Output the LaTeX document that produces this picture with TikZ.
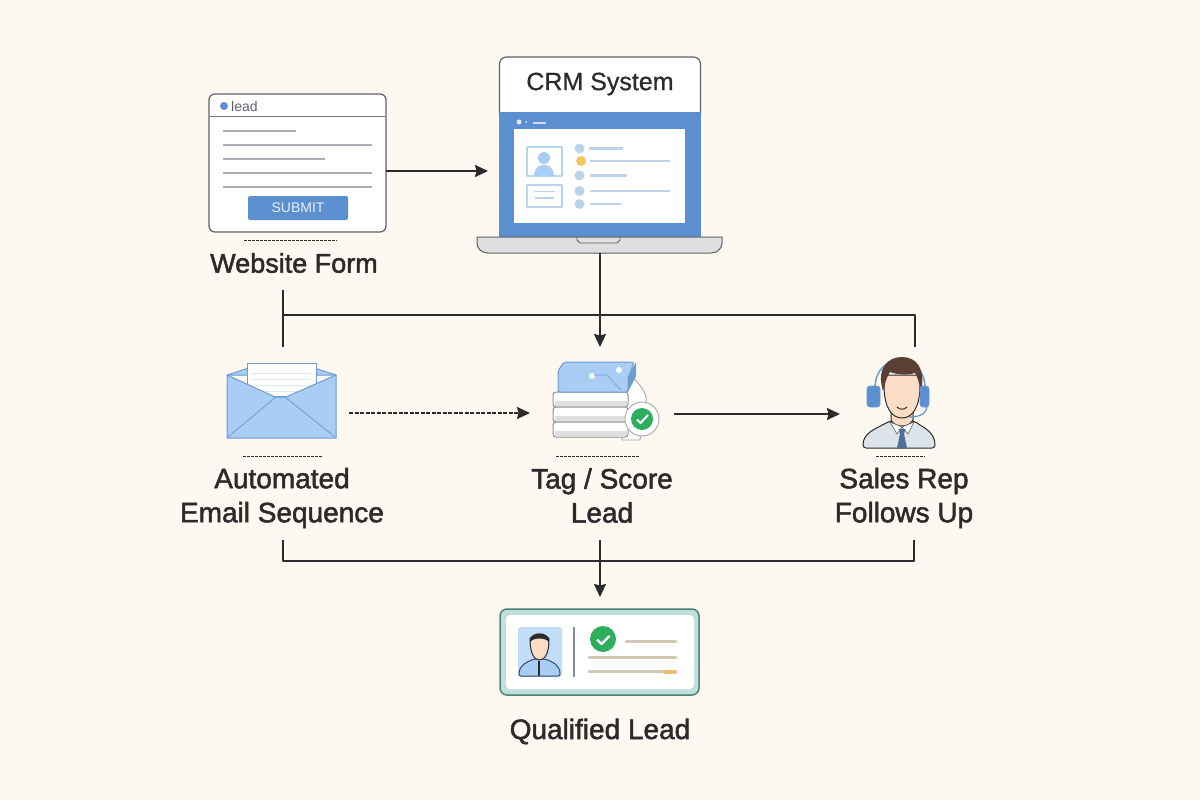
\documentclass[tikz,border=0pt]{standalone}
\usepackage{fontspec}
\setmainfont{Liberation Sans}
\newfontfamily\capfont[FakeBold=1.8]{Liberation Sans}
\newfontfamily\titlefont[FakeBold=0.6]{Liberation Sans}
\usetikzlibrary{arrows.meta,positioning,calc}
\definecolor{paper}{HTML}{FDF8F0}
\definecolor{ink}{HTML}{2B2B2B}
\definecolor{frameline}{HTML}{5E6268}
\definecolor{rule}{HTML}{A9AFB8}
\definecolor{crmblue}{HTML}{5B8FD0}
\definecolor{pale}{HTML}{BCD3EC}
\definecolor{sky}{HTML}{A9CDF5}
\definecolor{skyline}{HTML}{6E9BD0}
\definecolor{okgreen}{HTML}{2EAE5C}
\definecolor{tan}{HTML}{D2C8B5}
\definecolor{skin}{HTML}{FBDCC4}
\definecolor{hair}{HTML}{5A4034}
\definecolor{shirt}{HTML}{DCE3EA}
\definecolor{tie}{HTML}{4E7096}
\definecolor{cardline}{HTML}{4D7F78}
\definecolor{cardfill}{HTML}{BFE0D9}
\definecolor{amber}{HTML}{F2C661}
\definecolor{sandbar}{HTML}{E9BE73}

\begin{document}
\begin{tikzpicture}[x=1pt,y=-1pt,>={Stealth[length=13pt,width=12pt,inset=1.5pt]},line join=round,
                    flow/.style={draw=ink,line width=1.7pt},
                    tick/.style={draw=ink,line width=.9pt,dash pattern=on 3pt off 1pt},
                    caption/.style={font=\capfont\fontsize{28}{34}\selectfont,text=ink,align=center,inner sep=0pt},
                    box/.style={inner sep=0pt,outer sep=0pt,line width=1.2pt},
                    icon/.style={inner sep=0pt,outer sep=0pt,minimum width=#1},
                    rowline/.style={draw=rule,line width=2.4pt},
                    paleline/.style={draw=pale,line width=2.2pt}]
  \useasboundingbox[fill=paper] (0,0) rectangle (1200,800);

  % form
  \node[box,draw=frameline,fill=white,rounded corners=6pt,minimum width=177pt,minimum height=138pt]
       (form) at (297.5,163) {};
  \draw[draw=rule!70!black,line width=1pt] (form.west |- 0,116) -- (form.east |- 0,116);
  \fill[crmblue] (224,106) circle (4pt);
  \node[inner sep=0pt,anchor=west,text=frameline,font=\fontsize{14}{16}\selectfont] (formtitle) at (231,106) {lead};
  \draw[rowline] (223,131) -- (296,131);
  \draw[rowline] (223,145) -- (372,145);
  \draw[rowline] (223,159) -- (325,159);
  \draw[rowline] (223,173) -- (372,173);
  \draw[rowline] (223,187) -- (372,187);
  \node[fill=crmblue,rounded corners=2pt,minimum width=100pt,minimum height=24pt,inner sep=0pt,
        text=white!85!crmblue,font=\fontsize{14}{16}\selectfont] (submit) at (298,208) {SUBMIT};
  \draw[tick] (244,240) -- (337,240);
  \node[caption,font=\capfont\fontsize{27}{34}\selectfont] (formcap) at (294,263) {Website Form};

  % crm
  \node[box,draw=frameline,fill=white,minimum width=201pt,minimum height=64pt,rounded corners=7pt] (crmtop) at (600,89) {};
  \node[inner sep=0pt,text=ink,font=\titlefont\fontsize{25}{30}\selectfont] (crmtitle) at (600,84) {CRM System};
  \node[box,fill=crmblue,minimum width=202pt,minimum height=125pt] (crm) at (600,174.5) {};
  \node[fill=white,inner sep=0pt,minimum width=171pt,minimum height=94pt] (crmscreen) at (599.5,176) {};
  \filldraw[draw=frameline,fill=gray!25,line width=1pt] (477,237) -- (722,237) -- (722,243)
     .. controls (722,249) and (717,253) .. (711,253) -- (488,253)
     .. controls (482,253) and (477,249) .. (477,243) -- cycle;
  \coordinate (crmbase) at (600,253);
  \draw[draw=frameline,line width=.8pt] (577,237) -- (577,240) -- (580,243) -- (617,243) -- (620,240) -- (620,237);
  \fill[white!80!crmblue] (519,122) circle (2.5pt) (526,122) circle (1pt);
  \draw[white!70!crmblue,line width=2pt] (533,122.5) -- (546,122.5);
  \draw[pale,line width=1.2pt] (527,147) rectangle (562,176);
  \fill[sky] (544,158) circle (6pt);
  \fill[sky] (534,176) .. controls (535,167) and (539,165) .. (544,165) .. controls (549,165) and (553,167) .. (554,176) -- cycle;
  \draw[pale,line width=1.2pt] (527,185) rectangle (562,207);
  \draw[pale,line width=1pt] (534,191.5) -- (555,191.5);
  \draw[pale,line width=2pt] (535,198) -- (554,198);
  \foreach \yy/\xa/\xb in {148.5/589/623,175.5/590/627,191/590/670,204/590/621}
    {\fill[pale] (579.5,\yy) circle (5pt);
     \draw[paleline] (\xa,\yy) -- (\xb,\yy);}
  \fill[amber] (581,161) circle (5pt);
  \draw[paleline] (590,161) -- (670,161);

  % email
  \node[icon=109pt,minimum height=75pt] (email) at (281.5,400.5) {};
  \filldraw[fill=sky,draw=skyline,line width=1pt] (227,375) -- (252,367) -- (311,367) -- (336,375) -- cycle;
  \filldraw[fill=white,draw=skyline,line width=1pt] (247,396) -- (247,363) -- (316,363) -- (316,396) -- cycle;
  \foreach \yy in {373,379,385,391}
    \draw[pale!50!white,line width=1pt] (252,\yy) -- (311,\yy);
  \filldraw[fill=sky,draw=skyline,line width=1pt] (227,375) -- (275,397) -- (286,397) -- (336,375)
     -- (336,438) -- (227,438) -- cycle;
  \draw[skyline,line width=.8pt] (228,437) -- (276,397) (285,397) -- (335,437);
  \draw[tick] (243,456) -- (322,456);
  \node[caption] (emailcap) at (282,498) {Automated\\Email Sequence};

  % tag and score
  \node[icon=84pt,minimum height=76pt] (tag) at (595,400) {};
  \filldraw[fill=white,draw=frameline!60!white,line width=.8pt] (628,372) .. controls (640,385) and (650,395) .. (645,405) -- (640,440) -- (622,440) -- cycle;
  \foreach \yy in {392,407,422}
    {\filldraw[fill=white,draw=frameline!70!white,line width=1pt,rounded corners=3pt] (553,\yy) rectangle (628,\yy+15);
     \fill[gray!25] (555,\yy+9) rectangle (626.5,\yy+14);}
  \fill[skyline] (636,362) -- (636,376) -- (628,392) -- (626,380) -- cycle;
  \filldraw[fill=sky,draw=skyline,line width=1pt,rounded corners=2pt] (558,392) -- (558,371) -- (564,362) -- (634,362) -- (628,378) -- (628,392) -- cycle;
  \fill[white] (619,370) circle (3pt) (592,376) circle (3pt);
  \draw[skyline,line width=.6pt] (594,375) -- (607,375) -- (621,390);
  \filldraw[fill=white,draw=frameline!50!white,line width=1pt] (642,419) circle (17pt);
  \fill[okgreen] (642,419) circle (11pt);
  \draw[white,line width=2pt] (637,419.5) -- (640.5,423) -- (648,415);
  \draw[tick] (556,456) -- (640,456);
  \node[caption] (tagcap) at (602,495.5) {Tag / Score\\Lead};

  % sales rep
  \node[icon=72pt,minimum height=92pt] (rep) at (899,402) {};
  \filldraw[fill=shirt,draw=ink,line width=1pt,rounded corners=3pt] (863,448) .. controls (863,433) and (875,429) .. (890,421) -- (914,421) .. controls (926,429) and (935,433) .. (935,448) -- cycle;
  \filldraw[fill=skin,draw=ink,line width=1pt] (891,408) -- (891,420) .. controls (895,428) and (909,428) .. (913,420) -- (913,408) -- cycle;
  \filldraw[fill=white,draw=frameline,line width=.6pt] (890,422) -- (897,434) -- (902,427) -- (908,434) -- (914,422) -- (902,427) -- cycle;
  \fill[tie] (898.5,429) -- (905.5,429) -- (904,434) -- (907,448) -- (897,448) -- (900,434) -- cycle;
  \draw[skyline,line width=1.5pt] (875,388) .. controls (875,351) and (925,351) .. (925,388);
  \filldraw[fill=skin,draw=ink,line width=1pt] (884,385) .. controls (884,408) and (892,418) .. (902,418) .. controls (912,418) and (920,408) .. (920,385) -- (920,375) -- (884,375) -- cycle;
  \fill[hair] (883,391) .. controls (876,368) and (888,357) .. (902,357) .. controls (916,357) and (926,368) .. (921,391)
     .. controls (919,382) and (917,376) .. (915,373) .. controls (905,376) and (895,374) .. (890,372) .. controls (886,378) and (885,384) .. (883,391) -- cycle;
  \filldraw[fill=crmblue,draw=skyline,line width=.8pt,rounded corners=3pt] (867,386) rectangle (880,407);
  \filldraw[fill=crmblue,draw=skyline,line width=.8pt,rounded corners=3pt] (920,386) rectangle (929,407);
  \draw[crmblue,line width=1.2pt] (927,405) .. controls (927,414) and (920,417) .. (909,417);
  \draw[ink,line width=1pt] (897,407) .. controls (900,410) and (904,410) .. (907,407);
  \draw[tick] (876,456) -- (925,456);
  \node[caption] (repcap) at (904,498) {Sales Rep\\Follows Up};

  % qualified
  \node[box,draw=cardline,fill=cardfill,rounded corners=7pt,minimum width=199pt,minimum height=86pt,line width=1.5pt]
       (card) at (599.5,652) {};
  \node[fill=white,rounded corners=4pt,inner sep=0pt,minimum width=188pt,minimum height=74pt] (cardin) at (600,652) {};
  \node[fill=sky!70!white,rounded corners=3pt,inner sep=0pt,minimum width=44pt,minimum height=50pt] (cardface) at (540,652) {};
  \filldraw[fill=sky,draw=tie!70!black,line width=1pt,rounded corners=2pt] (519,676) .. controls (519,665) and (527,662) .. (534,659) -- (545,659) .. controls (553,662) and (560,665) .. (560,676) -- cycle;
  \filldraw[fill=skin,draw=ink,line width=1pt] (530,639) .. controls (530,655) and (535,660) .. (539.5,660) .. controls (544,660) and (549,655) .. (549,639) .. controls (549,635) and (530,635) .. (530,639) -- cycle;
  \fill[ink] (530,643) .. controls (527,630) and (552,630) .. (549,643) .. controls (548,637) and (531,637) .. (530,643) -- cycle;
  \draw[ink,line width=2pt] (539,661) -- (539,676);
  \draw[rule!80!black,line width=1.2pt] (574,627) -- (574,677);
  \fill[okgreen] (603,639) circle (13pt);
  \draw[white,line width=2.2pt] (597,639.5) -- (601.5,644) -- (609.5,636);
  \draw[tan,line width=3pt,line cap=round] (626,641) -- (676,641);
  \draw[tan,line width=3pt,line cap=round] (589,657) -- (676,657);
  \draw[tan,line width=3pt,line cap=round] (589,671.5) -- (664,671.5);
  \draw[sandbar,line width=4pt,line cap=round] (665,671.5) -- (675,671.5);
  \node[caption] (cardcap) at (600,731.5) {Qualified Lead};

  % connectors
  \coordinate (trunkl) at (283,315);
  \coordinate (trunkr) at (915,315);
  \coordinate (formfoot) at (283,290);
  \coordinate (emailhead) at (283,347);
  \coordinate (rephead) at (915,347);
  \coordinate (taghead) at (600,347);
  \coordinate (busl) at (283,540);
  \coordinate (busr) at (914,540);
  \coordinate (busm) at (600,540);
  \coordinate (cardhead) at (600,597);

  \path[->,every edge/.style={flow,draw}]
        ([yshift=-8pt]form.east) edge ([xshift=-11pt,yshift=3.5pt]crm.west)
        (crmbase) edge (taghead)
        ([xshift=13pt,yshift=-12.5pt]email.east) edge[dash pattern=on 4pt off 1.5pt] ([xshift=-23pt,yshift=-13pt]tag.west)
        ([xshift=37pt,yshift=-14pt]tag.east) edge ([xshift=-23pt,yshift=-12pt]rep.west)
        (busm) edge (cardhead);
  \draw[flow] (formfoot) -- (emailhead);
  \draw[flow] (trunkl) -- (trunkr) -- (rephead);
  \draw[flow] (busl) |- (busr |- 0,561) -- (busr);
\end{tikzpicture}
\end{document}
